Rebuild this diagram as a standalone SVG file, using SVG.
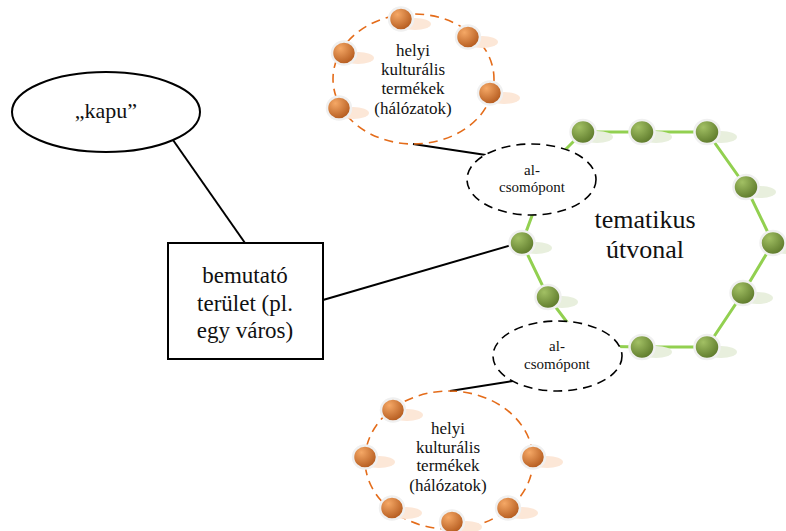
<svg xmlns="http://www.w3.org/2000/svg" width="786" height="531" viewBox="0 0 786 531">
<defs>
<radialGradient id="gG" cx="0.35" cy="0.3" r="0.75">
<stop offset="0" stop-color="#a2c064"/>
<stop offset="1" stop-color="#5a7628"/>
</radialGradient>
<radialGradient id="gO" cx="0.35" cy="0.3" r="0.75">
<stop offset="0" stop-color="#f5a866"/>
<stop offset="1" stop-color="#b0561a"/>
</radialGradient>
<g id="gn">
<ellipse cx="14" cy="5" rx="16" ry="6" fill="#e8efdd"/>
<ellipse cx="0" cy="0" rx="12.5" ry="12" fill="url(#gG)" stroke="#f0f0f0" stroke-width="2.5"/>
</g>
<g id="on">
<ellipse cx="14" cy="5" rx="16" ry="6" fill="#fce7d7"/>
<ellipse cx="0" cy="0" rx="12" ry="11.5" fill="url(#gO)" stroke="#f0f0f0" stroke-width="2.5"/>
</g>
</defs>
<style>
text{font-family:"Liberation Serif","Times New Roman",serif;fill:#111;text-anchor:middle}
.conn{stroke:#000;stroke-width:2;fill:none}
.ring{fill:none;stroke:#e46c1a;stroke-width:1.6;stroke-dasharray:9 6}
.sub{fill:#fff;stroke:#000;stroke-width:1.6;stroke-dasharray:9 6}
.solid{fill:#fff;stroke:#000;stroke-width:2}
</style>

<g id="connectors">
<line class="conn" x1="173" y1="140" x2="245" y2="243"/>
<line class="conn" x1="323" y1="300" x2="515" y2="244"/>
<line class="conn" x1="413" y1="144" x2="486" y2="155"/>
<line class="conn" x1="450" y1="391" x2="513" y2="381"/>
</g>

<g id="tematikus-utvonal">
<polyline points="583,132 642,132 707,132 746,187 773,243 743,293 707,347 642,347 585,346 548,297 522,243 551,164 583,132" fill="none" stroke="#92d050" stroke-width="3"/>
<text x="645" y="228" font-size="26">tematikus</text>
<text x="645" y="258" font-size="26">útvonal</text>
</g>

<g id="kapu">
<ellipse class="solid" cx="106" cy="112" rx="94" ry="40"/>
<text x="106" y="118" font-size="22">„kapu”</text>
</g>

<g id="bemutato-terulet">
<rect class="solid" x="168" y="243" width="155" height="116"/>
<text x="245" y="283" font-size="23">bemutató</text>
<text x="245" y="311" font-size="23">terület (pl.</text>
<text x="245" y="338" font-size="23">egy város)</text>
</g>

<g id="helyi-felso">
<ellipse class="ring" cx="413.5" cy="79" rx="80.5" ry="65"/>
<use href="#on" x="401" y="19"/>
<use href="#on" x="468" y="37"/>
<use href="#on" x="344" y="53"/>
<use href="#on" x="490" y="93"/>
<use href="#on" x="339" y="108"/>
<text x="413" y="56" font-size="17">helyi</text>
<text x="413" y="75" font-size="17">kulturális</text>
<text x="413" y="94" font-size="17">termékek</text>
<text x="413" y="114" font-size="17">(hálózatok)</text>
</g>

<g id="helyi-also">
<ellipse class="ring" cx="449" cy="460" rx="84" ry="69"/>
<use href="#on" x="393" y="410"/>
<use href="#on" x="365" y="457"/>
<use href="#on" x="533" y="457"/>
<use href="#on" x="392" y="508"/>
<use href="#on" x="508" y="508"/>
<use href="#on" x="452" y="522"/>
<text x="448" y="434" font-size="17">helyi</text>
<text x="448" y="453" font-size="17">kulturális</text>
<text x="448" y="471" font-size="17">termékek</text>
<text x="448" y="491" font-size="17">(hálózatok)</text>
</g>

<g id="al-csomopont-felso">
<ellipse class="sub" cx="531.5" cy="179.5" rx="64.5" ry="35.5"/>
<text x="532" y="175" font-size="15">al-</text>
<text x="532" y="192" font-size="15">csomópont</text>
</g>

<g id="al-csomopont-also">
<ellipse class="sub" cx="557.5" cy="356" rx="64.5" ry="35"/>
<text x="557" y="351" font-size="15">al-</text>
<text x="557" y="369" font-size="15">csomópont</text>
</g>

<g id="green-nodes">
<use href="#gn" x="583" y="132"/>
<use href="#gn" x="642" y="132"/>
<use href="#gn" x="707" y="132"/>
<use href="#gn" x="746" y="187"/>
<use href="#gn" x="773" y="243"/>
<use href="#gn" x="743" y="293"/>
<use href="#gn" x="707" y="347"/>
<use href="#gn" x="642" y="347"/>
<use href="#gn" x="548" y="297"/>
<use href="#gn" x="522" y="243"/>
</g>
</svg>
